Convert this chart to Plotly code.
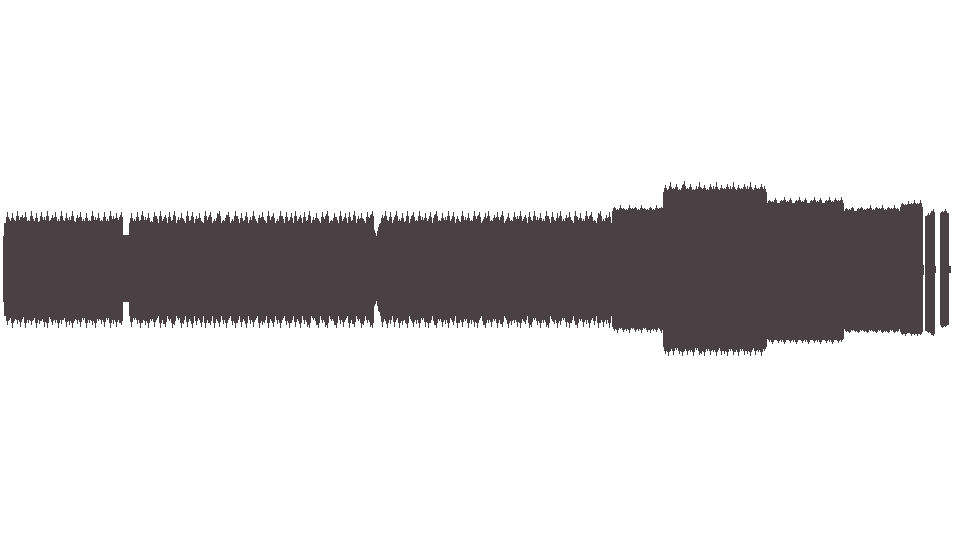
"""
Audio waveform overview drawn as one thin bar per screen column.

Each column spans from the negative peak to the positive peak of the samples
that fall in it, so the whole track reads as a solid silhouette.
"""

import plotly.graph_objects as go

WAVE_COLOR = "#4a4145"

# Column (time) ranges of steady passages and their body peak amplitudes
seg_start = [3, 4, 123, 129, 374, 380, 612, 663, 767, 844, 900, 923, 925, 935, 940, 949]
seg_end = [3, 122, 128, 373, 379, 611, 662, 766, 843, 899, 922, 923, 934, 935, 948, 950]
seg_top = [0.25, 0.35, 0.26, 0.35, 0.25, 0.35, 0.44, 0.58, 0.50, 0.44, 0.47, 0.04, 0.40, 0.03, 0.42, 0.03]
seg_bot = [-0.24, -0.34, -0.24, -0.34, -0.23, -0.34, -0.42, -0.57, -0.51, -0.44, -0.46, -0.04, -0.45, -0.02, -0.41, -0.02]

# Transient peaks: (column, positive peak, negative peak)
spikes_a = [
    (7, .43, -.41), (9, .38, -.37), (12, .42, -.43), (14, .37, -.38), (17, .44, -.40),
    (20, .39, -.42), (22, .41, -.36), (25, .43, -.43), (28, .37, -.39), (31, .44, -.41),
    (33, .38, -.37), (36, .42, -.43), (39, .36, -.40), (41, .43, -.38), (44, .39, -.42),
    (47, .44, -.43), (50, .37, -.36), (52, .41, -.41), (55, .43, -.39), (58, .38, -.43),
    (61, .44, -.40), (63, .37, -.37), (66, .42, -.42), (69, .39, -.41), (72, .44, -.43),
    (74, .36, -.38), (77, .41, -.40), (80, .43, -.42), (83, .38, -.37), (86, .42, -.43),
    (89, .37, -.39), (92, .44, -.41), (95, .39, -.43), (98, .42, -.38), (101, .37, -.40),
    (104, .43, -.42), (107, .38, -.37), (110, .44, -.43), (113, .40, -.40), (116, .42, -.42),
    (119, .39, -.39), (121, .43, -.41),
]
spikes_b = [
    (131, .42, -.42), (134, .38, -.37), (137, .43, -.40), (140, .37, -.43), (142, .44, -.39),
    (145, .39, -.41), (148, .42, -.43), (151, .36, -.38), (154, .43, -.42), (156, .40, -.37),
    (160, .44, -.43), (163, .38, -.40), (165, .41, -.42), (169, .43, -.38), (172, .37, -.43),
    (174, .44, -.41), (178, .39, -.37), (181, .42, -.43), (183, .38, -.40), (187, .44, -.42),
    (190, .37, -.38), (192, .43, -.43), (196, .40, -.41), (199, .42, -.37), (201, .36, -.42),
    (205, .44, -.43), (208, .39, -.39), (210, .43, -.41), (214, .38, -.43), (217, .42, -.38),
    (219, .44, -.42), (223, .37, -.40), (226, .41, -.43), (228, .43, -.37), (232, .38, -.41),
    (235, .44, -.43), (237, .40, -.39), (241, .42, -.42), (244, .37, -.38), (246, .43, -.43),
    (250, .39, -.40), (253, .44, -.42), (255, .38, -.37), (259, .41, -.43), (262, .43, -.41),
    (264, .37, -.39), (268, .44, -.43), (271, .39, -.38), (273, .42, -.42), (277, .38, -.40),
    (280, .44, -.43), (282, .40, -.37), (286, .43, -.41), (289, .37, -.43), (291, .42, -.39),
    (295, .44, -.42), (298, .38, -.38), (300, .41, -.43), (304, .43, -.40), (307, .37, -.42),
    (309, .44, -.43), (313, .39, -.37), (316, .42, -.41), (318, .38, -.43), (322, .43, -.39),
    (325, .40, -.42), (327, .44, -.43), (331, .37, -.38), (334, .42, -.41), (336, .39, -.43),
    (340, .44, -.40), (343, .38, -.42), (345, .42, -.37), (349, .43, -.43), (352, .37, -.40),
    (354, .44, -.42), (358, .40, -.38), (361, .42, -.43), (363, .38, -.41), (367, .43, -.39),
    (370, .41, -.42), (372, .44, -.43),
]
spikes_dip = [(374, .30, -.27), (378, .32, -.30), (379, .34, -.31)]
spikes_c = [
    (382, .41, -.42), (385, .44, -.38), (387, .37, -.43), (390, .43, -.40), (394, .39, -.42),
    (396, .44, -.37), (399, .38, -.43), (402, .42, -.41), (405, .36, -.39), (407, .44, -.43),
    (411, .40, -.38), (413, .43, -.42), (416, .37, -.40), (419, .44, -.43), (422, .39, -.37),
    (425, .42, -.42), (428, .38, -.43), (430, .43, -.39), (434, .41, -.41), (436, .44, -.43),
    (439, .37, -.38), (442, .42, -.42), (445, .39, -.40), (448, .44, -.43), (451, .38, -.37),
    (453, .43, -.41), (457, .40, -.43), (459, .36, -.39), (462, .44, -.42), (465, .39, -.38),
    (468, .42, -.43), (471, .37, -.40), (474, .44, -.42), (477, .40, -.43), (479, .43, -.37),
    (483, .38, -.41), (485, .42, -.43), (488, .44, -.39), (491, .37, -.42), (494, .41, -.38),
    (497, .43, -.43), (500, .39, -.40), (502, .44, -.42), (506, .38, -.37), (508, .42, -.43),
    (511, .37, -.41), (514, .43, -.39), (517, .40, -.42), (520, .44, -.43), (523, .38, -.38),
    (525, .41, -.40), (529, .43, -.43), (531, .37, -.42), (534, .44, -.37), (537, .39, -.41),
    (540, .42, -.43), (543, .38, -.39), (546, .44, -.42), (548, .40, -.43), (552, .43, -.38),
    (554, .37, -.40), (557, .42, -.43), (560, .44, -.41), (563, .38, -.37), (566, .41, -.42),
    (569, .43, -.43), (571, .37, -.39), (575, .44, -.41), (577, .39, -.43), (580, .42, -.38),
    (583, .38, -.42), (586, .44, -.40), (589, .40, -.43), (591, .43, -.37), (594, .37, -.41),
    (598, .42, -.43), (600, .44, -.39), (603, .38, -.42), (606, .41, -.40), (609, .43, -.43),
]
spikes_d = [
    (614, .47, -.45), (617, .45, -.47), (620, .48, -.44), (623, .46, -.46), (626, .45, -.45),
    (629, .48, -.47), (632, .46, -.44), (635, .47, -.46), (638, .45, -.45), (641, .48, -.47),
    (644, .46, -.44), (647, .45, -.46), (650, .47, -.47), (653, .45, -.45), (656, .48, -.46),
    (659, .46, -.44), (661, .47, -.47),
]
spikes_e = [
    (665, .63, -.62), (668, .60, -.64), (670, .65, -.60), (673, .61, -.63), (676, .64, -.59),
    (679, .60, -.62), (682, .63, -.64), (684, .66, -.60), (687, .61, -.63), (690, .64, -.61),
    (693, .60, -.64), (696, .62, -.59), (699, .65, -.63), (701, .61, -.62), (704, .63, -.64),
    (707, .60, -.60), (710, .64, -.63), (713, .62, -.61), (716, .65, -.64), (718, .60, -.59),
    (721, .63, -.63), (724, .61, -.62), (727, .64, -.64), (730, .62, -.60), (733, .65, -.63),
    (735, .60, -.61), (738, .63, -.64), (741, .61, -.60), (744, .64, -.63), (747, .62, -.62),
    (750, .65, -.64), (752, .60, -.59), (755, .63, -.63), (758, .61, -.61), (761, .64, -.64),
    (764, .62, -.60),
]
spikes_f = [
    (769, .52, -.53), (772, .51, -.55), (775, .53, -.52), (778, .50, -.54), (781, .52, -.53),
    (784, .54, -.55), (787, .51, -.52), (790, .53, -.54), (793, .50, -.53), (796, .52, -.55),
    (799, .54, -.52), (802, .51, -.54), (805, .53, -.53), (808, .50, -.55), (811, .52, -.52),
    (814, .54, -.54), (817, .51, -.53), (820, .53, -.55), (823, .50, -.52), (826, .52, -.54),
    (829, .54, -.53), (832, .51, -.55), (835, .53, -.52), (838, .52, -.54), (841, .54, -.53),
]
spikes_g = [
    (846, .46, -.46), (849, .45, -.47), (852, .47, -.45), (855, .44, -.46), (858, .46, -.47),
    (861, .47, -.45), (864, .45, -.46), (867, .46, -.47), (870, .48, -.45), (873, .45, -.46),
    (876, .47, -.47), (879, .46, -.45), (882, .48, -.47), (885, .45, -.46), (888, .47, -.47),
    (891, .46, -.45), (894, .48, -.47), (897, .46, -.46),
    (902, .50, -.48), (905, .49, -.49), (908, .51, -.47), (911, .50, -.49), (914, .52, -.48),
    (917, .50, -.49), (920, .52, -.48),
]
spikes_tail = [(928, .42, -.47), (931, .44, -.48), (933, .45, -.49), (942, .44, -.43), (945, .45, -.42)]

N_COLUMNS = 960


def build_columns():
    """Returns column index, positive peak and negative peak for every drawn column."""
    top = {}
    bot = {}
    for s, e, t, b in zip(seg_start, seg_end, seg_top, seg_bot):
        for c in range(s, e + 1):
            top[c] = t
            bot[c] = b

    all_spikes = (spikes_a + spikes_b + spikes_dip + spikes_c + spikes_d
                  + spikes_e + spikes_f + spikes_g + spikes_tail)
    # columns either side of a transient still carry part of its energy
    for c, hi, lo in all_spikes:
        for n in (c - 1, c + 1):
            if n in top:
                top[n] = max(top[n], top[n] + 0.55 * (hi - top[n]))
                bot[n] = min(bot[n], bot[n] + 0.55 * (lo - bot[n]))
    for c, hi, lo in all_spikes:
        top[c] = hi
        bot[c] = lo

    cols = sorted(top)
    return cols, [top[c] for c in cols], [bot[c] for c in cols]


cols, peaks_hi, peaks_lo = build_columns()

fig = go.Figure(
    go.Bar(
        x=cols,
        y=[h - l for h, l in zip(peaks_hi, peaks_lo)],
        base=peaks_lo,
        width=1,
        marker=dict(color=WAVE_COLOR, line=dict(width=0)),
        hoverinfo="skip",
    )
)

fig.update_layout(
    width=960,
    height=540,
    margin=dict(l=0, r=0, t=0, b=0),
    paper_bgcolor="white",
    plot_bgcolor="white",
    bargap=0,
    showlegend=False,
    xaxis=dict(range=[-0.5, N_COLUMNS - 0.5], visible=False, fixedrange=True),
    yaxis=dict(range=[-2.0, 2.0], visible=False, fixedrange=True),
)

fig.write_html(
    "out.html",
    config={"displayModeBar": False},
    post_script="document.body.style.margin='0';document.body.style.overflow='hidden';",
)
